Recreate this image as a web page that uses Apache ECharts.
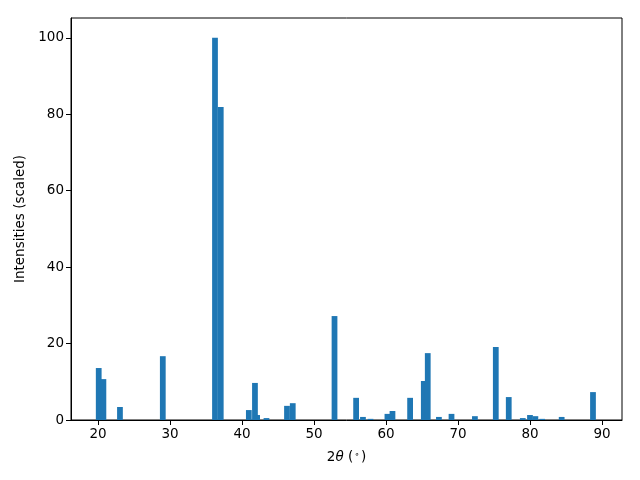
<!DOCTYPE html>
<html>
<head>
<meta charset="utf-8">
<script src="https://cdn.jsdelivr.net/npm/echarts@6/dist/echarts.min.js"></script>
<style>html,body{margin:0;padding:0;background:#fff}#c{width:640px;height:480px}</style>
</head>
<body>
<div id="c"></div>
<script>
var twoTheta = [20.1, 20.75, 23.05, 29.0, 36.25, 37.05, 40.95, 41.8, 42.1, 43.4, 46.25, 47.05, 52.85, 55.85, 56.8, 57.85, 60.2, 60.9, 63.35, 65.25, 65.8, 67.35, 69.1, 72.35, 75.25, 77.05, 79.0, 80.0, 80.75, 81.7, 84.4, 88.75];
var intensities = [13.6, 10.7, 3.4, 16.7, 100, 81.9, 2.6, 9.7, 1.3, 0.5, 3.7, 4.4, 27.2, 5.8, 0.8, 0.3, 1.6, 2.35, 5.8, 10.2, 17.5, 0.8, 1.6, 1.0, 19.1, 6.0, 0.5, 1.3, 1.0, 0.3, 0.8, 7.3];
var xTicks = [20, 30, 40, 50, 60, 70, 80, 90];
var yTicks = [0, 20, 40, 60, 80, 100];
var barWidth = 0.8;

var data = twoTheta.map(function (x, i) { return [x, intensities[i]]; });
var font = 'DejaVu Sans';
var chart = echarts.init(document.getElementById('c'), null, {renderer: 'canvas'});
chart.setOption({
  animation: false,
  grid: {left: 71, right: 18, top: 18, bottom: 60, show: true, borderColor: '#000', borderWidth: 1, backgroundColor: 'transparent'},
  xAxis: {
    type: 'value', min: 16.25, max: 92.78,
    name: '{n|2}{i|θ}{n| (}{s|∘}{n|)}',
    nameLocation: 'middle', nameGap: 30,
    nameTextStyle: {rich: {
      n: {fontFamily: font, fontSize: 13.5, color: '#000'},
      i: {fontFamily: font, fontSize: 13.5, fontStyle: 'italic', color: '#000'},
      s: {fontFamily: font, fontSize: 9, color: '#000', verticalAlign: 'top', padding: [0, 1, 6, 1]}
    }},
    axisLine: {show: true, onZero: false, lineStyle: {color: '#000', width: 1}},
    axisTick: {show: true, length: 5, inside: false, customValues: xTicks, lineStyle: {color: '#000'}},
    axisLabel: {customValues: xTicks, fontFamily: font, fontSize: 13.5, color: '#000', margin: 7},
    splitLine: {show: false}
  },
  yAxis: {
    type: 'value', min: 0, max: 105.2,
    name: 'Intensities (scaled)', nameLocation: 'middle', nameGap: 40,
    nameTextStyle: {fontFamily: font, fontSize: 13.5, color: '#000'},
    axisLine: {show: true, onZero: false, lineStyle: {color: '#000', width: 1}},
    axisTick: {show: true, length: 5, inside: false, customValues: yTicks, lineStyle: {color: '#000'}},
    axisLabel: {customValues: yTicks, fontFamily: font, fontSize: 13.5, color: '#000', margin: 7},
    splitLine: {show: false}
  },
  series: [{
    type: 'custom',
    data: data,
    clip: true,
    renderItem: function (params, api) {
      var x = api.value(0), y = api.value(1);
      var p1 = api.coord([x - barWidth / 2, y]);
      var p2 = api.coord([x + barWidth / 2, 0]);
      return {
        type: 'rect',
        shape: {x: p1[0], y: p1[1], width: p2[0] - p1[0], height: p2[1] - p1[1]},
        style: {fill: '#1f77b4'}
      };
    }
  }]
});
</script>
</body>
</html>
